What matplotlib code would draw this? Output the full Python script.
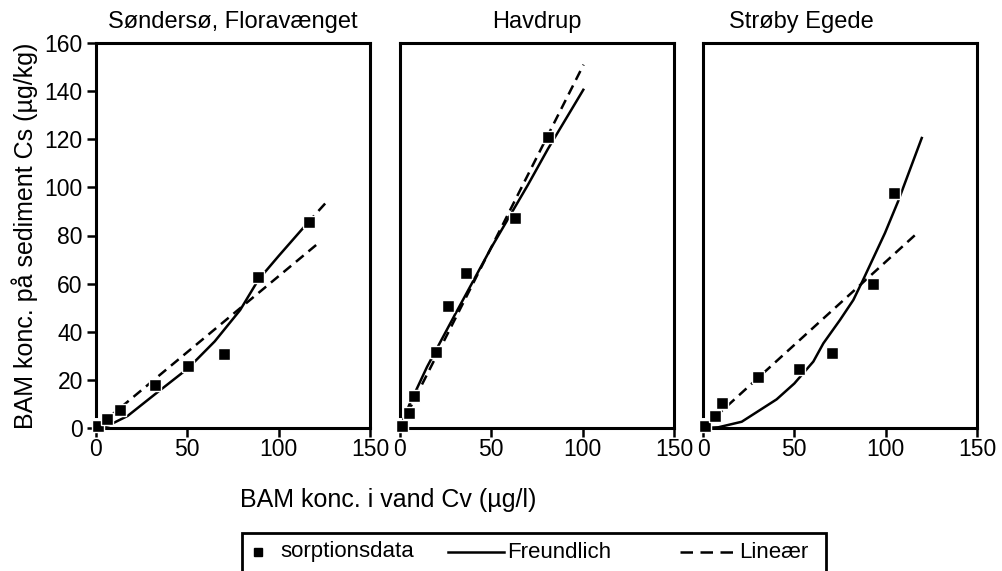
import matplotlib
matplotlib.use('Agg')
import matplotlib.pyplot as plt
from matplotlib.lines import Line2D
from matplotlib.patches import Rectangle

plt.rcParams['font.family'] = ['Liberation Sans', 'DejaVu Sans']

W, H = 1002, 571

titles = ['Søndersø, Floravænget', 'Havdrup', 'Strøby Egede']
title_x = [0.5, 0.5, 0.358]   # Strøby Egede sits left of centre in the original

# sorptionsdata  (Cv, Cs)
sor_x = [
    [1, 6, 13, 32.4, 50.4, 70.2, 88.8, 116.4],
    [1, 5, 7.7, 19.8, 26.4, 36.3, 63.2, 80.8],
    [1, 6.6, 10.4, 30, 52.5, 70.6, 93, 104.5],
]
sor_y = [
    [1, 3.7, 7.5, 17.9, 25.9, 30.7, 62.8, 85.6],
    [1, 6.2, 13.3, 31.6, 50.7, 64.4, 87.3, 121],
    [1, 5.0, 10.4, 21.1, 24.5, 31.0, 59.8, 97.5],
]

# Freundlich fit
fr_x = [
    [0, 7.2, 17.3, 32.9, 50.4, 65, 78.9, 88.8, 100, 115.8],
    [0, 5, 14.8, 30, 50, 70, 81, 100.7],
    [0, 8.4, 21.2, 40.3, 50, 60.4, 65.9, 75, 82.3, 87.6, 99.6, 106.7, 120],
]
fr_y = [
    [0, 1.2, 5, 14.4, 24.8, 36, 49, 61.5, 71.5, 85.2],
    [0, 9.5, 25.4, 47, 75, 101, 116, 141],
    [0, 0.3, 2.6, 11.9, 18.5, 27.6, 35.2, 44.9, 53.2, 61.5, 81, 94, 121],
]

# linear fit
lin_x = [[0, 122.5], [0, 100.5], [0, 118]]
lin_y = [[0, 77.3], [0, 151], [0, 81.5]]

# dashed stub past the last point in the first panel
ext_x = [115.8, 125.7]
ext_y = [85.2, 93.5]

fig = plt.figure(figsize=(W / 100, H / 100), dpi=100)

lefts = [96, 400, 703]
axw = 274
bottom = 1 - 428 / H
height = (428 - 43) / H

dash = (4, 2.5)
for i in range(3):
    ax = fig.add_axes([lefts[i] / W, bottom, axw / W, height])
    ax.plot(fr_x[i], fr_y[i], color='k', lw=1.8, solid_capstyle='butt')
    ax.plot(lin_x[i], lin_y[i], color='k', lw=1.8, ls=(0, dash))
    if i == 0:
        ax.plot(ext_x, ext_y, color='k', lw=1.8, ls=(0, dash))
    ax.plot(sor_x[i], sor_y[i], ls='none', marker='s', ms=9, color='k',
            mec='white', mew=1.0, clip_on=False, zorder=5)

    ax.set_xlim(0, 150)
    ax.set_ylim(0, 160)
    ax.set_xticks([0, 50, 100, 150])
    for s in ax.spines.values():
        s.set_linewidth(2.2)
    ax.spines['bottom'].set_bounds(3, 150)
    ax.spines['left'].set_bounds(5, 160)
    ax.tick_params(direction='out', length=6.5, width=1.8, labelsize=16.5)
    ax.tick_params(axis='x', pad=1)
    ax.tick_params(axis='y', pad=3)
    if i == 0:
        ax.set_yticks(range(0, 161, 20))
    else:
        ax.set_yticks([])
    ax.text(title_x[i], 1.039, titles[i], transform=ax.transAxes,
            ha='center', va='baseline', fontsize=17)

fig.text(25 / W, 1 - 236 / H, 'BAM konc. på sediment Cs (µg/kg)',
         rotation=90, ha='center', va='center', fontsize=18)
fig.text(388 / W, 1 - 500 / H, 'BAM konc. i vand Cv (µg/l)',
         ha='center', va='center', fontsize=18)

# legend box, cut off by the lower edge like the original
fig.add_artist(Rectangle((242 / W, -0.05), (826 - 242) / W, 0.05 + 1 - 533 / H,
                         transform=fig.transFigure, fill=False,
                         edgecolor='k', lw=2))
ly = 1 - 552 / H
fig.add_artist(Line2D([258 / W], [ly], marker='s', ms=6, color='k',
                      ls='none', transform=fig.transFigure))
fig.text(280 / W, ly, 'sorptionsdata', va='center', fontsize=16)
fig.add_artist(Line2D([448 / W, 504 / W], [ly, ly], color='k', lw=1.8,
                      transform=fig.transFigure))
fig.text(507 / W, ly, 'Freundlich', va='center', fontsize=16)
fig.add_artist(Line2D([680 / W, 736 / W], [ly, ly], color='k', lw=1.8,
                      ls=(0, (5, 3)), transform=fig.transFigure))
fig.text(739 / W, ly, 'Lineær', va='center', fontsize=16)

fig.savefig('out.png', dpi=100)
